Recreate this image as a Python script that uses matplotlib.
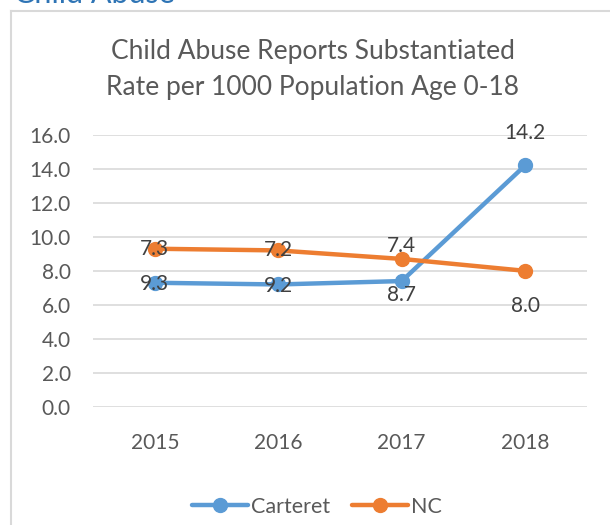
import matplotlib
matplotlib.use("Agg")
import matplotlib.pyplot as plt
from matplotlib.lines import Line2D

years = ["2015", "2016", "2017", "2018"]
carteret = [7.3, 7.2, 7.4, 14.2]
nc = [9.3, 9.2, 8.7, 8.0]
# data label texts as shown in the chart
carteret_labels = ["7.3", "7.2", "7.4", "14.2"]
nc_labels = ["9.3", "9.2", "8.7", "8.0"]
yticks = [0, 2, 4, 6, 8, 10, 12, 14, 16]

FONT = ["Lato", "DejaVu Sans"]
plt.rcParams['font.family'] = FONT
TXT = "#595959"
BLUE = "#5B9BD5"
ORANGE = "#ED7D31"

W, H = 610, 525
fig = plt.figure(figsize=(W / 100, H / 100), dpi=100)

def fx(px):
    return px / W

def fy(py):
    return 1 - py / H

# chart border (left and top)
fig.add_artist(Line2D([fx(10.5), fx(10.5)], [fy(10.5), fy(530)], color="#d9d9d9", lw=1.5))
fig.add_artist(Line2D([fx(10.5), fx(615)], [fy(10.5), fy(10.5)], color="#d9d9d9", lw=1.5))

# section heading (cut off at top)
fig.text(fx(14), fy(3), "Child Abuse", color="#2E74B5", fontsize=22, ha="left", va="baseline")

# chart title
fig.text(fx(313), fy(52), "Child Abuse Reports Substantiated", color=TXT, fontsize=19,
         ha="center", va="center")
fig.text(fx(313), fy(88), "Rate per 1000 Population Age 0-18", color=TXT, fontsize=19,
         ha="center", va="center")

ax = fig.add_axes([fx(93), fy(407), fx(587) - fx(93), fy(134.7) - fy(407)])
x = list(range(len(years)))
ax.plot(x, carteret, color=BLUE, lw=3.2, marker="o", ms=10, label="Carteret",
        solid_capstyle="round", zorder=3)
ax.plot(x, nc, color=ORANGE, lw=3.2, marker="o", ms=10, label="NC",
        solid_capstyle="round", zorder=3)

ax.set_xlim(-0.5, 3.5)
ax.set_ylim(0, 16)
ax.set_yticks(yticks)
ax.set_yticklabels([f"{v:.1f}" for v in yticks])
ax.set_xticks(x)
ax.set_xticklabels(years)
ax.tick_params(axis="both", length=0, labelsize=15, labelcolor=TXT)
ax.tick_params(axis="y", pad=16)
ax.tick_params(axis="x", pad=19)
for s in ax.spines.values():
    s.set_visible(False)
ax.grid(axis="y", color="#d9d9d9", lw=1.2)
ax.set_axisbelow(True)

# data labels (placed as in the original chart)
upper_off = [0, 0, 9, 23]      # points offset for the upper labels
lower_off = [-1, -1, -10, -25]
for i in x:
    top = max(carteret[i], nc[i])
    bot = min(carteret[i], nc[i])
    ax.annotate(carteret_labels[i], (i, top), xytext=(0, upper_off[i]), textcoords="offset points",
                ha="center", va="center", fontsize=15, color="#404040", zorder=4)
    ax.annotate(nc_labels[i], (i, bot), xytext=(0, lower_off[i]), textcoords="offset points",
                ha="center", va="center", fontsize=15, color="#404040", zorder=4)

leg = fig.legend(loc="center", bbox_to_anchor=(fx(317), fy(507)), ncol=2, frameon=False,
                 fontsize=15.5, labelcolor=TXT, handlelength=2.6, handletextpad=0.15,
                 columnspacing=1.0)

fig.savefig("out.png", dpi=100, facecolor="white")
